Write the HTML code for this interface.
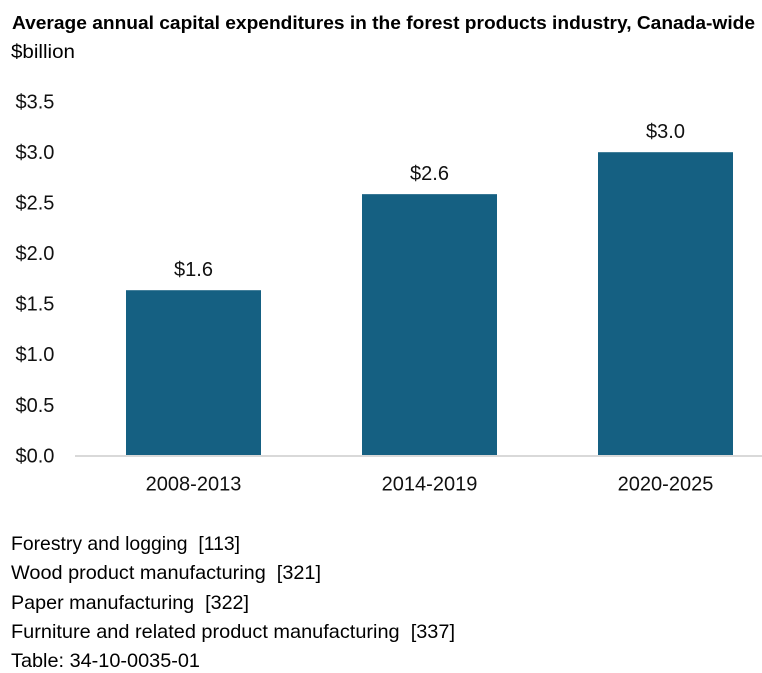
<!DOCTYPE html>
<html lang="en">
<head>
<meta charset="utf-8">
<title>Average annual capital expenditures</title>
<style>
html,body{margin:0;padding:0;background:#fff;width:762px;height:673px;overflow:hidden}
svg{display:block}
text{font-family:"Liberation Sans",sans-serif;fill:#000}
.tick{font-size:20px;fill:#111}
.note{font-size:19.5px}
</style>
</head>
<body>
<svg id="chart" width="762" height="673" viewBox="0 0 762 673" xmlns="http://www.w3.org/2000/svg">
<text x="12" y="29" font-size="18.5" font-weight="700" textLength="743" lengthAdjust="spacingAndGlyphs">Average annual capital expenditures in the forest products industry, Canada-wide</text>
<text x="11" y="58" class="note" textLength="64" lengthAdjust="spacingAndGlyphs">$billion</text>
<g id="y-axis"></g>
<g id="bars"></g>
<g id="x-axis"></g>
<line x1="75" y1="456" x2="762" y2="456" stroke="#d9d9d9" stroke-width="2"></line>
<text x="11" y="550" class="note" textLength="229" lengthAdjust="spacingAndGlyphs">Forestry and logging&#160; [113]</text>
<text x="11" y="579" class="note" textLength="310" lengthAdjust="spacingAndGlyphs">Wood product manufacturing&#160; [321]</text>
<text x="11" y="609" class="note" textLength="238" lengthAdjust="spacingAndGlyphs">Paper manufacturing&#160; [322]</text>
<text x="11" y="638" class="note" textLength="444" lengthAdjust="spacingAndGlyphs">Furniture and related product manufacturing&#160; [337]</text>
<text x="11" y="667" class="note" textLength="189" lengthAdjust="spacingAndGlyphs">Table: 34-10-0035-01</text>
</svg>
<script>
const categories = ['2008-2013', '2014-2019', '2020-2025'];
const seriesValues = [1.635, 2.585, 3.0];
const valueLabels = ['$1.6', '$2.6', '$3.0'];
const yTicks = [0, 0.5, 1, 1.5, 2, 2.5, 3, 3.5];
const yTickLabels = ['$0.0', '$0.5', '$1.0', '$1.5', '$2.0', '$2.5', '$3.0', '$3.5'];

const NS = 'http://www.w3.org/2000/svg';
const plotLeft = 75.5, plotRight = 783.5, baseY = 455.5, unitPx = 101.1, barWidth = 135;
function yScale(v) { return baseY - v * unitPx; }
function xCenter(i) { return plotLeft + (plotRight - plotLeft) * (i + 0.5) / categories.length; }
function makeText(parent, x, y, anchor, cls, content) {
  const t = document.createElementNS(NS, 'text');
  t.setAttribute('x', x);
  t.setAttribute('y', y);
  t.setAttribute('text-anchor', anchor);
  t.setAttribute('class', cls);
  t.textContent = content;
  parent.appendChild(t);
  return t;
}
const yAxis = document.getElementById('y-axis');
const xAxis = document.getElementById('x-axis');
const barsG = document.getElementById('bars');
yTicks.forEach(function (tick, i) {
  const label = makeText(yAxis, 15.5, yScale(tick) + 6.8, 'start', 'tick', yTickLabels[i]);
  
  
});
categories.forEach(function (cat, i) {
  const cx = xCenter(i);
  const top = yScale(seriesValues[i]);
  const rect = document.createElementNS(NS, 'rect');
  rect.setAttribute('x', cx - barWidth / 2);
  rect.setAttribute('y', top);
  rect.setAttribute('width', barWidth);
  rect.setAttribute('height', baseY - top);
  rect.setAttribute('fill', '#156082');
  
  
  barsG.appendChild(rect);
  const val = makeText(barsG, cx, top - 14, 'middle', 'tick', valueLabels[i]);
  
  
  const catLabel = makeText(xAxis, cx, 490.5, 'middle', 'tick', cat);
  
  
});
</script>
</body>
</html>
